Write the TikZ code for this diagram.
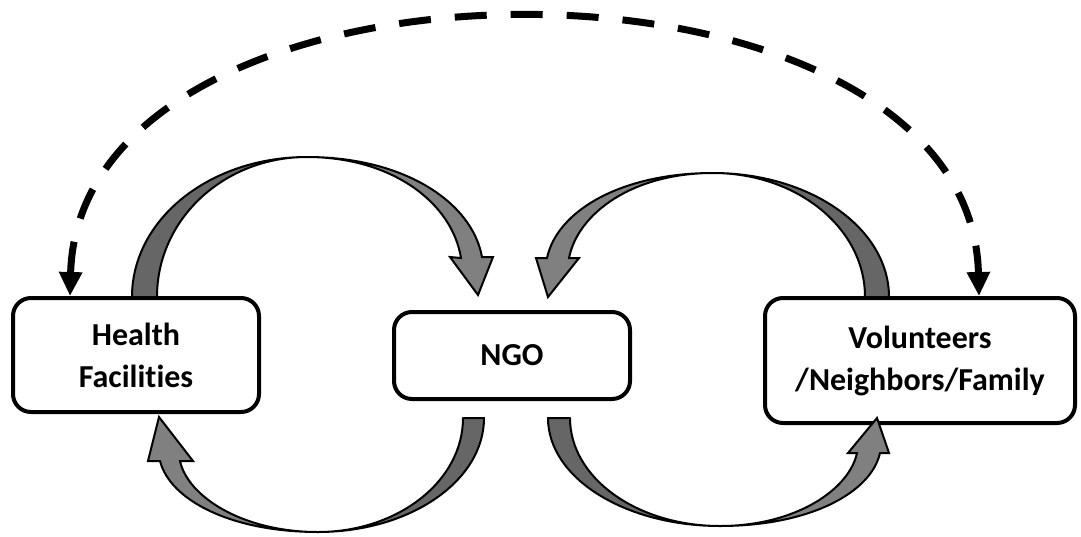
\documentclass[tikz,border=0pt]{standalone}
\usepackage{fontspec}
\setmainfont{Carlito}[Ligatures=NoCommon]
\usetikzlibrary{arrows.meta,calc}
\begin{document}
\begin{tikzpicture}[x=1pt,y=-1pt,
  box/.style={draw=black,line width=4pt,rounded corners=18pt,fill=white,align=center,
    font=\fontsize{32}{42}\selectfont\bfseries,inner sep=0pt},
  backpart/.style={draw=black,line width=2pt,fill=black!60,line join=round},
  frontpart/.style={draw=black,line width=2pt,fill=black!50,line join=miter},
  link/.style={line width=7pt,dash pattern=on 32pt off 24pt,
    arrows={Triangle[length=24pt,width=22pt]-Triangle[length=24pt,width=22pt]}}]
\useasboundingbox (0,0) rectangle (1081,536);

% boxes
\node[box,minimum width=246pt,minimum height=114pt] (hf) at (136,355) {Health\\Facilities};
\node[box,minimum width=236pt,minimum height=87pt] (ngo) at (512,355.5) {NGO};
\node[box,minimum width=310pt,minimum height=125pt] (vol) at (920,360.5) {Volunteers\\/Neighbors/Family};

% top-left curved arrow: Health Facilities -> NGO
\draw[backpart] (132,297) .. controls (132,219) and (210,157) .. (307,157)
  .. controls (224,157) and (157,219) .. (157,297) -- cycle;
\draw[frontpart] (307,157) .. controls (404,157) and (472,202) .. (482,257)
  -- (493,257) -- (478,295) -- (450,257) -- (461,258)
  .. controls (452,202) and (391,157) .. (307,157) -- cycle;

% top-right curved arrow: Volunteers -> NGO
\draw[backpart] (889,297) .. controls (889,228) and (810,173) .. (713,173)
  .. controls (797,173) and (865,228) .. (865,297) -- cycle;
\draw[frontpart] (713,173) .. controls (621,173) and (557,211) .. (547,258)
  -- (536,258) -- (548,297) -- (579,258) -- (569,258)
  .. controls (578,213) and (633,173) .. (713,173) -- cycle;

% bottom-left curved arrow: NGO -> Health Facilities
\draw[backpart] (484,418) .. controls (484,481) and (410,532) .. (318,532)
  .. controls (398,532) and (463,481) .. (463,418) -- cycle;
\draw[frontpart] (318,532) .. controls (231,532) and (170,500) .. (160,461)
  -- (148,461) -- (159,417) -- (193,461) -- (180,461)
  .. controls (188,497) and (243,532) .. (318,532) -- cycle;

% bottom-right curved arrow: NGO -> Volunteers
\draw[backpart] (548,418) .. controls (548,478) and (625,526) .. (720,526)
  .. controls (637,526) and (570,478) .. (570,418) -- cycle;
\draw[frontpart] (720,526) .. controls (809,526) and (871,493) .. (880,453)
  -- (889,453) -- (877,418) -- (848,453) -- (857,453)
  .. controls (849,490) and (795,526) .. (720,526) -- cycle;

% dashed link between Health Facilities and Volunteers
\coordinate (d1) at ($(hf.north west)+(59,0)$);
\coordinate (d2) at ($(vol.north west)+(216,0)$);
\draw[link] (d1) .. controls (80,-72) and (970,-72) .. (d2);
\end{tikzpicture}
\end{document}
